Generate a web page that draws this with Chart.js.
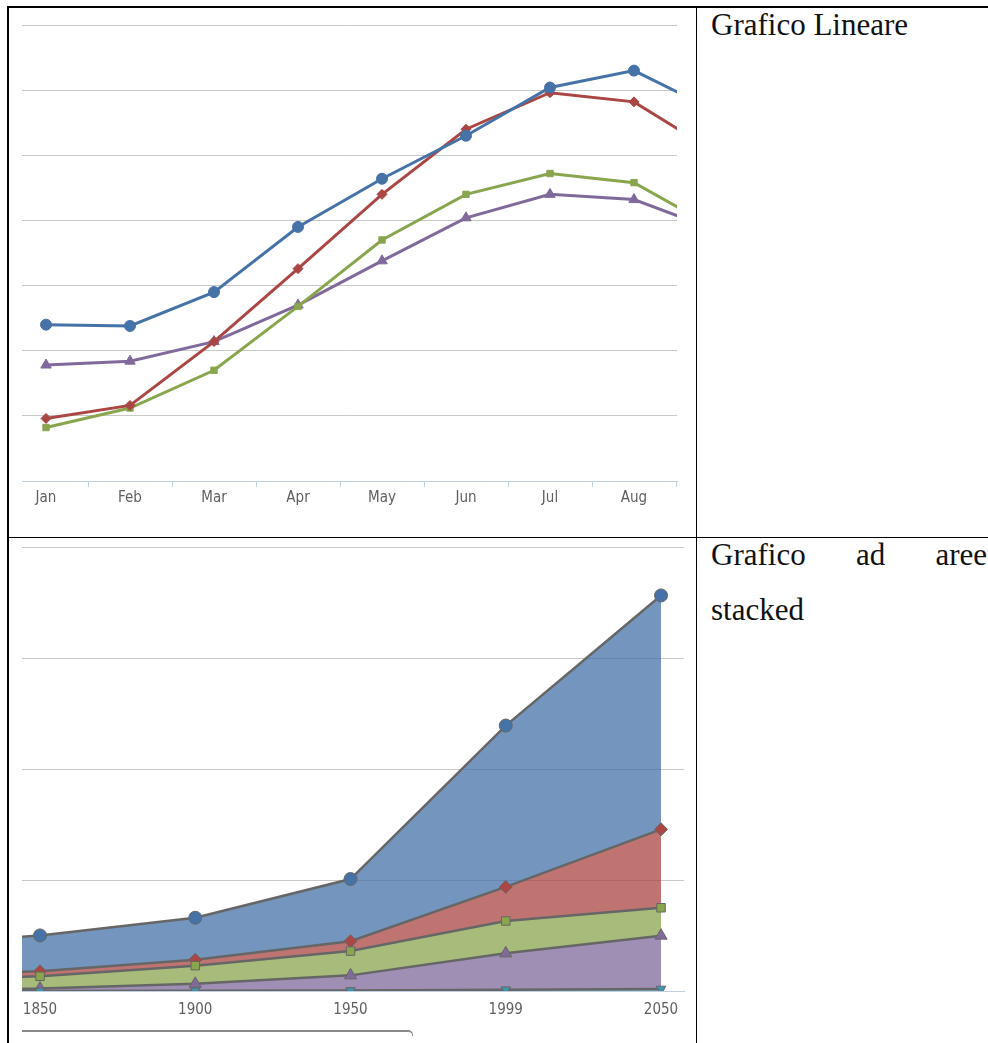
<!DOCTYPE html>
<html lang="it">
<head>
<meta charset="UTF-8">
<title>Grafici</title>
<script src="https://cdn.jsdelivr.net/npm/chart.js"></script>
<style>
  body { margin: 0; background: #fff; width: 988px; height: 1043px; overflow: hidden; position: relative; }
  .frame { position: absolute; left: 7px; top: 6px; width: 1100px; height: 1100px; border-left: 2px solid #000; border-top: 2px solid #000; }
  .vline { position: absolute; left: 696px; top: 6px; width: 1px; height: 1100px; background: #000; }
  .hline { position: absolute; left: 7px; top: 537px; width: 1100px; height: 1px; background: #000; }
  .cell-txt { position: absolute; left: 711px; width: 276px; font-family: "Liberation Serif", serif; font-size: 31px; line-height: 55px; color: #111; text-align: justify; }
  .box { position: absolute; left: 9px; width: 686px; }
  .legend-edge { position: absolute; left: 22px; top: 1030px; width: 390px; height: 4px; border-top: 2px solid #8a8a8a; border-right: 1px solid #8a8a8a; border-top-right-radius: 5px; }
</style>
</head>
<body>
  <div class="frame"></div>
  <div class="vline"></div>
  <div class="hline"></div>

  <div class="box" style="top:8px;height:528px"><canvas id="lineChart" width="686" height="528"></canvas></div>
  <div class="box" style="top:539px;height:504px"><canvas id="areaChart" width="686" height="504"></canvas></div>
  <div class="legend-edge"></div>

  <div class="cell-txt" style="top:-3px">Grafico Lineare</div>
  <div class="cell-txt" style="top:527px">Grafico ad aree stacked</div>

<script>
  // grafico lineare: temperature medie mensili
  const months = ['Jan', 'Feb', 'Mar', 'Apr', 'May', 'Jun', 'Jul', 'Aug', 'Sep', 'Oct', 'Nov', 'Dec'];
  const tokyo = [7.0, 6.9, 9.5, 14.5, 18.2, 21.5, 25.2, 26.5, 23.3, 18.3, 13.9, 9.6];
  const newYork = [-0.2, 0.8, 5.7, 11.3, 17.0, 22.0, 24.8, 24.1, 20.1, 14.1, 8.6, 2.5];
  const berlin = [-0.9, 0.6, 3.5, 8.4, 13.5, 17.0, 18.6, 17.9, 14.3, 9.0, 3.9, 1.0];
  const london = [3.9, 4.2, 5.7, 8.5, 11.9, 15.2, 17.0, 16.6, 14.2, 10.3, 6.6, 4.8];

  // grafico ad aree stacked: popolazione per regione (milioni)
  const years = ['1750', '1800', '1850', '1900', '1950', '1999', '2050'];
  const asia = [502, 635, 809, 947, 1402, 3634, 5268];
  const africa = [106, 107, 111, 133, 221, 767, 1766];
  const europe = [163, 203, 276, 408, 547, 729, 628];
  const america = [18, 31, 54, 156, 339, 818, 1201];
  const oceania = [2, 2, 2, 6, 13, 30, 46];

  Chart.defaults.font.family = '"DejaVu Sans Condensed", "DejaVu Sans", sans-serif';
  Chart.defaults.font.size = 15;
  Chart.defaults.color = '#5f5f5f';

  function pts(a) {
    return a.map((v, i) => ({ x: i, y: v }));
  }

  function alpha(hex, a) {
    const n = parseInt(hex.slice(1), 16);
    return 'rgba(' + (n >> 16) + ',' + ((n >> 8) & 255) + ',' + (n & 255) + ',' + a + ')';
  }

  // piccoli segni di tick tra le categorie (come highcharts)
  const tickMarks = {
    id: 'tickMarks',
    afterDraw(chart, args, opts) {
      if (!opts.values) return;
      const sx = chart.scales.x, ctx = chart.ctx, y0 = chart.chartArea.bottom;
      ctx.save();
      ctx.strokeStyle = '#C0D0E0';
      ctx.lineWidth = 1;
      opts.values.forEach(v => {
        if (v < sx.min || v > sx.max) return;
        const px = Math.round(sx.getPixelForValue(v)) + 0.5;
        ctx.beginPath();
        ctx.moveTo(px, y0);
        ctx.lineTo(px, y0 + 6);
        ctx.stroke();
      });
      ctx.restore();
    }
  };

  function line(label, data, color, style, r) {
    return {
      label: label,
      data: pts(data),
      borderColor: color,
      backgroundColor: color,
      borderWidth: 3,
      pointStyle: style,
      pointRadius: r,
      pointBackgroundColor: color,
      pointBorderColor: color,
      pointBorderWidth: 1,
      tension: 0
    };
  }

  function xAxis(labels, min, max, h, pad) {
    return {
      type: 'linear',
      min: min,
      max: max,
      grid: { display: false, drawTicks: false },
      border: { color: '#C0D0E0', width: 1 },
      afterBuildTicks: s => {
        s.ticks = labels.map((l, i) => ({ value: i })).filter(t => t.value >= s.min && t.value <= s.max);
      },
      afterFit: s => { s.height = h; },
      ticks: { autoSkip: false, maxRotation: 0, padding: pad, callback: v => labels[v] }
    };
  }

  function yAxis(min, max, step) {
    return {
      min: min,
      max: max,
      afterFit: s => { s.width = 0; },
      border: { display: false },
      ticks: { display: false, stepSize: step },
      grid: { drawTicks: false, color: c => c.tick.value === min ? 'rgba(0,0,0,0)' : '#C8C8C8' }
    };
  }

  new Chart(document.getElementById('lineChart'), {
    type: 'line',
    data: {
      datasets: [
        line('Tokyo', tokyo, '#4572A7', 'circle', 5.5),
        line('New York', newYork, '#AA4643', 'rectRot', 5),
        line('Berlin', berlin, '#89A54E', 'rect', 4.5),
        line('London', london, '#80699B', 'triangle', 6)
      ]
    },
    options: {
      responsive: false,
      animation: false,
      layout: { padding: { left: 13, right: 18, top: 17, bottom: 0 } },
      plugins: {
        legend: { display: false },
        tooltip: { enabled: false },
        tickMarks: { values: months.map((m, i) => i + 0.5) }
      },
      scales: {
        x: xAxis(months, -0.286, 7.512, 55, 8),
        y: yAxis(-5, 30, 5)
      }
    },
    plugins: [tickMarks]
  });

  function area(label, data, color, style, r, fill, rot) {
    return {
      label: label,
      data: pts(data),
      fill: fill,
      borderColor: '#666666',
      borderWidth: 2.5,
      backgroundColor: alpha(color, 0.75),
      pointStyle: style,
      pointRadius: r,
      pointRotation: rot || 0,
      pointBackgroundColor: color,
      pointBorderColor: '#666666',
      pointBorderWidth: 1,
      tension: 0
    };
  }

  new Chart(document.getElementById('areaChart'), {
    type: 'line',
    data: {
      datasets: [
        area('Oceania', oceania, '#3D96AE', 'triangle', 5.5, 'origin', 180),
        area('America', america, '#80699B', 'triangle', 7, '-1'),
        area('Europe', europe, '#89A54E', 'rect', 6, '-1'),
        area('Africa', africa, '#AA4643', 'rectRot', 6.5, '-1'),
        area('Asia', asia, '#4572A7', 'circle', 6.5, '-1')
      ]
    },
    options: {
      responsive: false,
      animation: false,
      layout: { padding: { left: 13, right: 11, top: 4, bottom: 0 } },
      plugins: {
        legend: { display: false },
        tooltip: { enabled: false }
      },
      scales: {
        x: xAxis(years, 1.884, 6.148, 52, 10),
        y: Object.assign(yAxis(0, 10000, 2500), { stacked: true })
      }
    }
  });
</script>
</body>
</html>
